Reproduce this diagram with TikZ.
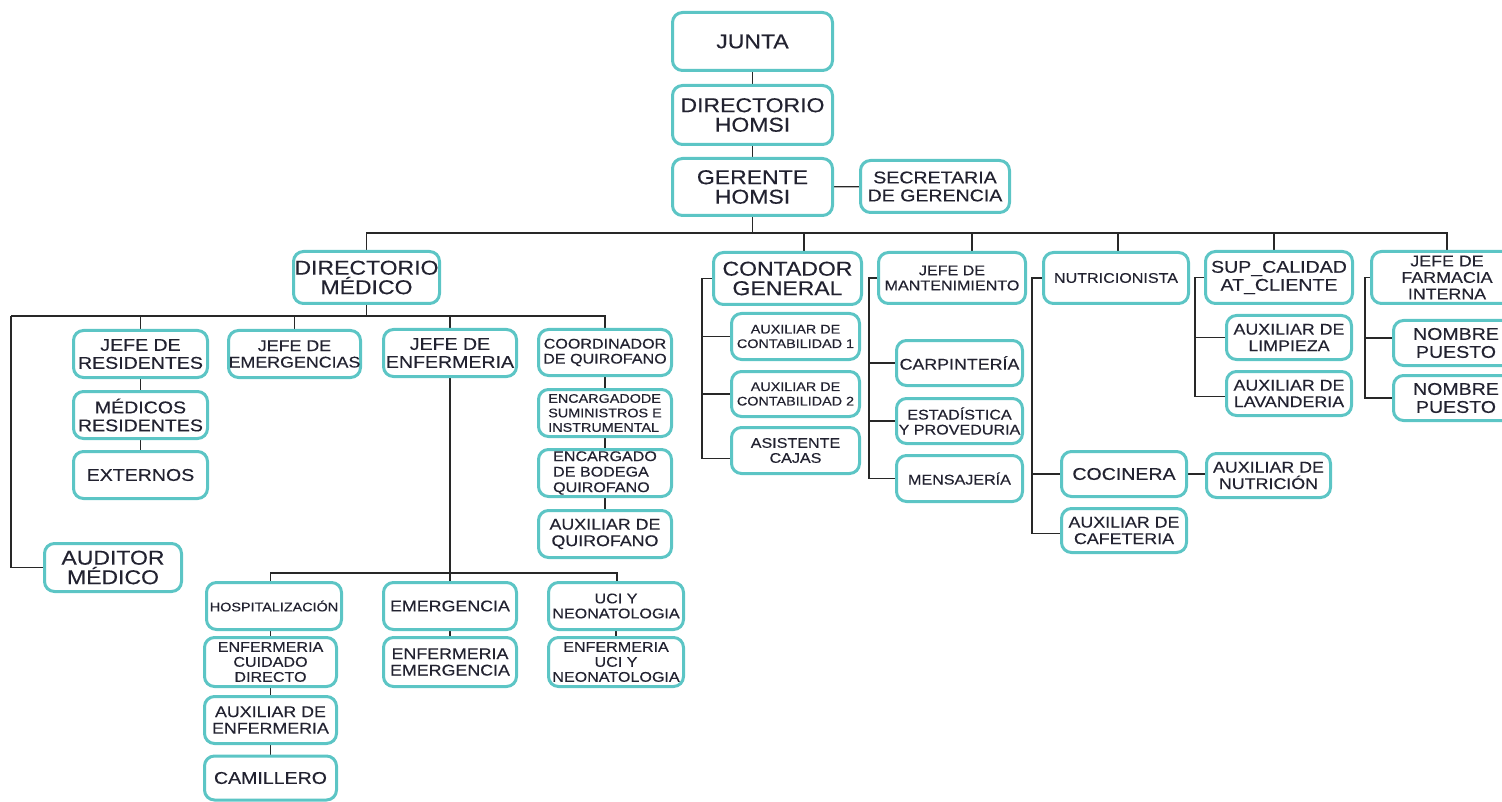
\documentclass[tikz,border=0pt]{standalone}
\usepackage{fontspec}
\setmainfont{Liberation Sans}[FakeStretch=1.15,FakeBold=0.3]
\definecolor{boxc}{RGB}{92,197,197}
\definecolor{txtc}{RGB}{34,34,48}
\definecolor{linec}{RGB}{40,40,40}
\pgfdeclarelayer{background}
\pgfsetlayers{background,main}
\tikzset{
  box/.style={draw=boxc, line width=3pt, rounded corners=10pt, fill=white,
    align=center, inner sep=0pt, text=txtc},
  sz/.style 2 args={minimum width=#1, minimum height=#2},
  fL/.style={font=\fontsize{20}{19.5}\selectfont},
  fM/.style={font=\fontsize{17}{18}\selectfont},
  fS/.style={font=\fontsize{15.5}{16.5}\selectfont},
  fX/.style={font=\fontsize{14}{15}\selectfont},
  fXX/.style={font=\fontsize{12.5}{14.5}\selectfont},
  conn/.style={draw=linec, line width=1.3pt},
}
\begin{document}
\begin{tikzpicture}[x=1pt,y=-1pt]
\useasboundingbox (0,0) rectangle (1502,802);
% top
\node[box,fL,sz={160}{58}] (junta) at (752.5,41.5) {JUNTA};
\node[box,fL,sz={160}{59}] (dirh) at (752.5,115) {DIRECTORIO\\HOMSI};
\node[box,fL,sz={160}{57}] (ger) at (752.5,187) {GERENTE\\HOMSI};
\node[box,fM,sz={149}{52}] (sec) at (935,186.5) {SECRETARIA\\DE GERENCIA};
% second row
\node[box,fL,sz={146}{52}] (dm) at (366.5,277.5) {DIRECTORIO\\MÉDICO};
\node[box,fL,sz={148}{52}] (cg) at (787.5,278.5) {CONTADOR\\GENERAL};
\node[box,fX,sz={147}{51}] (jm) at (952,278) {JEFE DE\\MANTENIMIENTO};
\node[box,fX,sz={145}{51}] (nut) at (1116,278) {NUTRICIONISTA};
\node[box,fM,sz={147}{52}] (sup) at (1279,277.5) {SUP\_CALIDAD\\AT\_CLIENTE};
\node[box,fS,sz={151}{52}] (farm) at (1447,277.5) {JEFE DE\\FARMACIA\\INTERNA};
% directorio medico children
\node[box,fM,sz={134}{47}] (jr) at (140.5,354) {JEFE DE\\RESIDENTES};
\node[box,fS,sz={132}{47}] (je) at (294.5,354) {JEFE DE\\EMERGENCIAS};
\node[box,fM,sz={133}{47}] (jenf) at (450,353) {JEFE DE\\ENFERMERIA};
\node[box,fX,sz={133}{46}] (coord) at (605,352.5) {COORDINADOR\\DE QUIROFANO};
\node[box,fM,sz={134}{47}] (mr) at (140.5,415) {MÉDICOS\\RESIDENTES};
\node[box,fM,sz={134}{47}] (ext) at (140.5,475) {EXTERNOS};
\node[box,fXX,sz={133}{47},align=left] (encs) at (605,413) {ENCARGADODE\\SUMINISTROS E\\INSTRUMENTAL};
\node[box,font=\fontsize{14}{15.5}\selectfont,sz={133}{47},align=left] (encb) at (605,473) {ENCARGADO\\DE BODEGA\\QUIROFANO};
\node[box,fS,sz={133}{47}] (auxq) at (605,534) {AUXILIAR DE\\QUIROFANO};
\node[box,fL,sz={137}{48}] (aud) at (113,567.5) {AUDITOR\\MÉDICO};
% enfermeria children
\node[box,fXX,sz={135}{47}] (hosp) at (274,606) {HOSPITALIZACIÓN};
\node[box,fS,sz={133}{47}] (emer) at (450,606) {EMERGENCIA};
\node[box,fX,sz={135}{47}] (uci) at (616,606) {UCI Y\\NEONATOLOGIA};
\node[box,fX,sz={132}{49}] (ecd) at (270.5,662) {ENFERMERIA\\CUIDADO\\DIRECTO};
\node[box,fS,sz={133}{49}] (eem) at (450,662) {ENFERMERIA\\EMERGENCIA};
\node[box,fX,sz={135}{49}] (euci) at (616,662) {ENFERMERIA\\UCI Y\\NEONATOLOGIA};
\node[box,fS,sz={132}{47}] (auxe) at (270.5,720) {AUXILIAR DE\\ENFERMERIA};
\node[box,fM,sz={132}{44}] (cam) at (270.5,778) {CAMILLERO};
% contador children
\node[box,fXX,sz={128}{46}] (aux1) at (795.5,336.5) {AUXILIAR DE\\CONTABILIDAD 1};
\node[box,fXX,sz={128}{45}] (aux2) at (795.5,394) {AUXILIAR DE\\CONTABILIDAD 2};
\node[box,fX,sz={128}{46}] (asis) at (795.5,450.5) {ASISTENTE\\CAJAS};
% mantenimiento children
\node[box,fS,sz={126}{45}] (carp) at (959.5,363) {CARPINTERÍA};
\node[box,fX,sz={126}{45}] (est) at (959.5,421) {ESTADÍSTICA\\Y PROVEDURIA};
\node[box,fX,sz={126}{46}] (mens) at (959.5,478.5) {MENSAJERÍA};
% nutricion children
\node[box,fM,sz={125}{45}] (coc) at (1124,474) {COCINERA};
\node[box,fS,sz={125}{44}] (caf) at (1124,530.5) {AUXILIAR DE\\CAFETERIA};
\node[box,fS,sz={124}{44}] (auxn) at (1268.5,475.5) {AUXILIAR DE\\NUTRICIÓN};
% sup children
\node[box,fS,sz={125}{44}] (limp) at (1289,337.5) {AUXILIAR DE\\LIMPIEZA};
\node[box,fS,sz={125}{44}] (lav) at (1289,393.5) {AUXILIAR DE\\LAVANDERIA};
% farmacia children
\node[box,fM,sz={125}{45}] (np1) at (1456,343) {NOMBRE\\PUESTO};
\node[box,fM,sz={125}{45}] (np2) at (1456,398) {NOMBRE\\PUESTO};

% bus coordinates
\coordinate (busL) at (366.5,233);
\coordinate (b-cg) at (804,233);
\coordinate (b-jm) at (972,233);
\coordinate (b-nut) at (1118,233);
\coordinate (b-sup) at (1274,233);
\coordinate (b-farm) at (1447,233);
\coordinate (dmL) at (11,316);
\coordinate (dmbus) at (366.5,316);
\coordinate (enfbus) at (450,573);
\coordinate (eb-h) at (270.5,573);
\coordinate (eb-u) at (617,573);
\coordinate (cgx) at (702,0);
\coordinate (jmx) at (869,0);
\coordinate (nutx) at (1032,0);
\coordinate (supx) at (1195,0);
\coordinate (farmx) at (1365,0);

\begin{pgfonlayer}{background}
\draw[conn] (junta) -- (dirh);
\draw[conn] (dirh) -- (ger);
\draw[conn] (ger) -- (sec);
% main bus
\draw[conn] (ger.south) -- (ger.south |- busL);
\draw[conn] (dm.north) -- (busL) -- (b-farm) -- (farm.north);
\draw[conn] (b-cg) -- (b-cg |- cg.north);
\draw[conn] (b-jm) -- (b-jm |- jm.north);
\draw[conn] (b-nut) -- (b-nut |- nut.north);
\draw[conn] (b-sup) -- (b-sup |- sup.north);
% directorio medico
\draw[conn] (dm.south) -- (dmbus);
\draw[conn] (dmL) -- (coord.north |- dmL) -- (coord.north);
\draw[conn] (jr.north |- dmL) -- (jr.north);
\draw[conn] (je.north |- dmL) -- (je.north);
\draw[conn] (jenf.north |- dmL) -- (jenf.north);
\draw[conn] (dmL) |- (aud.west);
\draw[conn] (jr) -- (mr);
\draw[conn] (mr) -- (ext);
\draw[conn] (coord) -- (encs);
\draw[conn] (encs) -- (encb);
\draw[conn] (encb) -- (auxq);
% enfermeria
\draw[conn] (jenf.south) -- (enfbus);
\draw[conn] (eb-h |- hosp.north) -- (eb-h) -- (eb-u) -- (eb-u |- uci.north);
\draw[conn] (enfbus) -- (emer.north);
\draw[conn] (hosp.south -| ecd.north) -- (ecd.north);
\draw[conn] (ecd) -- (auxe);
\draw[conn] (auxe) -- (cam);
\draw[conn] (emer) -- (eem);
\draw[conn] (uci.south -| euci.north) -- (euci.north);
% contador
\draw[conn] (cg.west) -- (cg.west -| cgx) |- ([yshift=-8pt]asis.west);
\draw[conn] (cgx |- aux1.west) -- (aux1.west);
\draw[conn] (cgx |- aux2.west) -- (aux2.west);
% mantenimiento
\draw[conn] (jm.west) -- (jm.west -| jmx) |- (mens.west);
\draw[conn] (jmx |- carp.west) -- (carp.west);
\draw[conn] (jmx |- est.west) -- (est.west);
% nutricion
\draw[conn] (nut.west) -- (nut.west -| nutx) |- ([yshift=-3pt]caf.west);
\draw[conn] (nutx |- coc.west) -- (coc.west);
\draw[conn] (coc.east) -- (coc.east -| auxn.west);
% sup
\draw[conn] (sup.west) -- (sup.west -| supx) |- ([yshift=-3pt]lav.west);
\draw[conn] (supx |- limp.west) -- (limp.west);
% farmacia
\draw[conn] (farm.west) -- (farm.west -| farmx) |- (np2.west);
\draw[conn] (farmx |- np1.west) ++(0,-5) -- ([yshift=5pt]np1.west);
\end{pgfonlayer}
\end{tikzpicture}
\end{document}
